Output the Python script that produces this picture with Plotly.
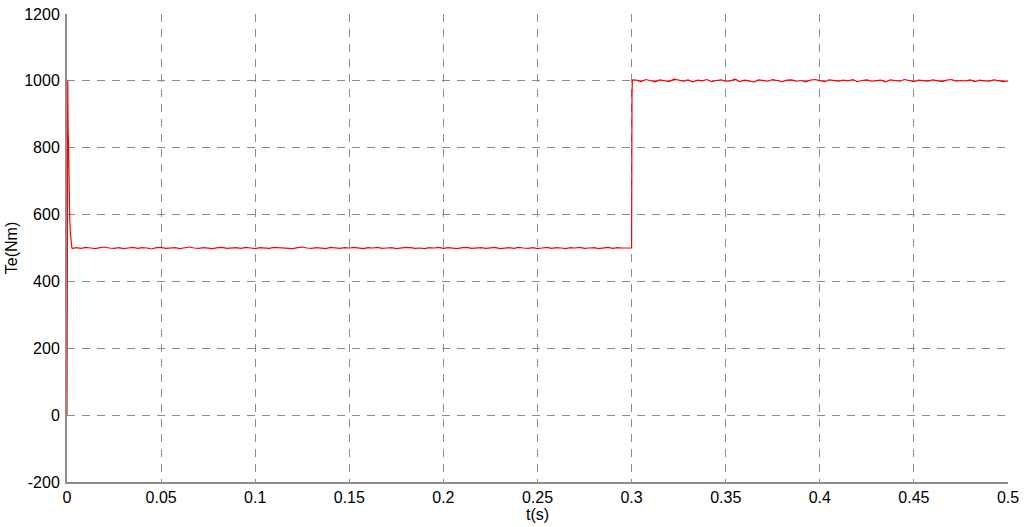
import numpy as np
import plotly.graph_objects as go

# Start-up transient (time in s, torque in Nm)
t_start = [0.0, 0.0002, 0.0004, 0.0006, 0.0008, 0.0010, 0.0012, 0.0014, 0.0017, 0.0021, 0.0026, 0.0030]
te_start = [0, 700, 1000, 850, 820, 690, 680, 600, 550, 515, 500, 499]

# Steady segment at 500 Nm, sampled every 0.0025 s from 0.005 s
seg1_t0 = 0.005
seg_dt = 0.0025
te_seg1 = [
    501, 499, 502, 500, 498, 501, 503, 500, 499, 501,
    498, 500, 502, 499, 501, 500, 497, 501, 502, 499,
    500, 501, 498, 500, 503, 500, 499, 501, 500, 498,
    501, 502, 499, 500, 501, 499, 502, 500, 498, 501,
    500, 499, 502, 501, 499, 500, 498, 501, 503, 500,
    499, 501, 500, 498, 502, 500, 499, 501, 500, 502,
    499, 498, 501, 500, 502, 499, 500, 501, 498, 500,
    502, 501, 499, 500, 498, 501, 500, 502, 499, 501,
    500, 498, 501, 502, 499, 500, 501, 499, 500, 502,
    498, 500, 501, 499, 502, 500, 499, 501, 498, 500,
    502, 499, 501, 500, 498, 501, 500, 502, 499, 500,
    501, 498, 500, 502, 499, 501, 500, 499,
]

# Load step at 0.3 s
t_step = [0.3, 0.3002, 0.3004]
te_step = [500, 950, 1003]

# Steady segment at 1000 Nm, sampled every 0.0025 s from 0.3025 s
seg2_t0 = 0.3025
te_seg2 = [
    1002, 998, 1004, 1001, 997, 1003, 1000, 998, 1005, 1001,
    999, 1003, 997, 1002, 1000, 1004, 998, 1001, 1003, 999,
    1000, 1005, 998, 1002, 1000, 997, 1003, 1001, 999, 1004,
    1000, 998, 1002, 1003, 999, 1001, 997, 1002, 1004, 1000,
    998, 1003, 1001, 999, 1002, 1000, 1004, 998, 1001, 1003,
    999, 1000, 1002, 997, 1003, 1001, 999, 1004, 1000, 998,
    1002, 1001, 999, 1003, 1000, 998, 1002, 1004, 999, 1001,
    1000, 1003, 998, 1002, 1000, 999, 1003, 1001, 998, 1000,
]

x_ticks = [0, 0.05, 0.1, 0.15, 0.2, 0.25, 0.3, 0.35, 0.4, 0.45, 0.5]
x_labels = ["0", "0.05", "0.1", "0.15", "0.2", "0.25", "0.3", "0.35", "0.4", "0.45", "0.5"]
y_ticks = [-200, 0, 200, 400, 600, 800, 1000, 1200]
y_labels = ["-200", "0", "200", "400", "600", "800", "1000", "1200"]

t1 = [seg1_t0 + i * seg_dt for i in range(len(te_seg1))]
t2 = [seg2_t0 + i * seg_dt for i in range(len(te_seg2))]

t_all = t_start + t1 + t_step + t2
te_all = te_start + te_seg1 + te_step + te_seg2

fig = go.Figure()
fig.add_trace(go.Scatter(x=t_all, y=te_all, mode="lines",
                         line=dict(color="#ff0000", width=1.2), showlegend=False))

grid_col = "#8c8c8c"
fig.update_layout(
    width=1024, height=527,
    margin=dict(l=67, r=16, t=14, b=45, autoexpand=False),
    paper_bgcolor="white", plot_bgcolor="white",
    font=dict(family="Liberation Sans, Arial, sans-serif", size=16, color="black"),
    xaxis=dict(
        range=[0, 0.5], tickvals=x_ticks, ticktext=x_labels, automargin=False,
        showgrid=True, gridcolor=grid_col, griddash="8px,7px", gridwidth=1.2,
        showline=True, linecolor=grid_col, linewidth=2, mirror=False,
        zeroline=False, ticks="", ticklen=0,
        title=dict(text="t(s)", standoff=0, font=dict(size=16)),
    ),
    yaxis=dict(
        range=[-200, 1200], tickvals=y_ticks, ticktext=y_labels, automargin=False,
        showgrid=True, gridcolor=grid_col, griddash="8px,7px", gridwidth=1.2,
        showline=True, linecolor=grid_col, linewidth=2, mirror=False,
        zeroline=False, ticks="outside", ticklen=2, tickcolor="rgba(0,0,0,0)",
        title=dict(text="Te(Nm)", standoff=3, font=dict(size=16)),
    ),
)

fig.write_html("out.html", config={"displayModeBar": False},
               post_script="document.body.style.margin='0';document.body.style.padding='0';")
